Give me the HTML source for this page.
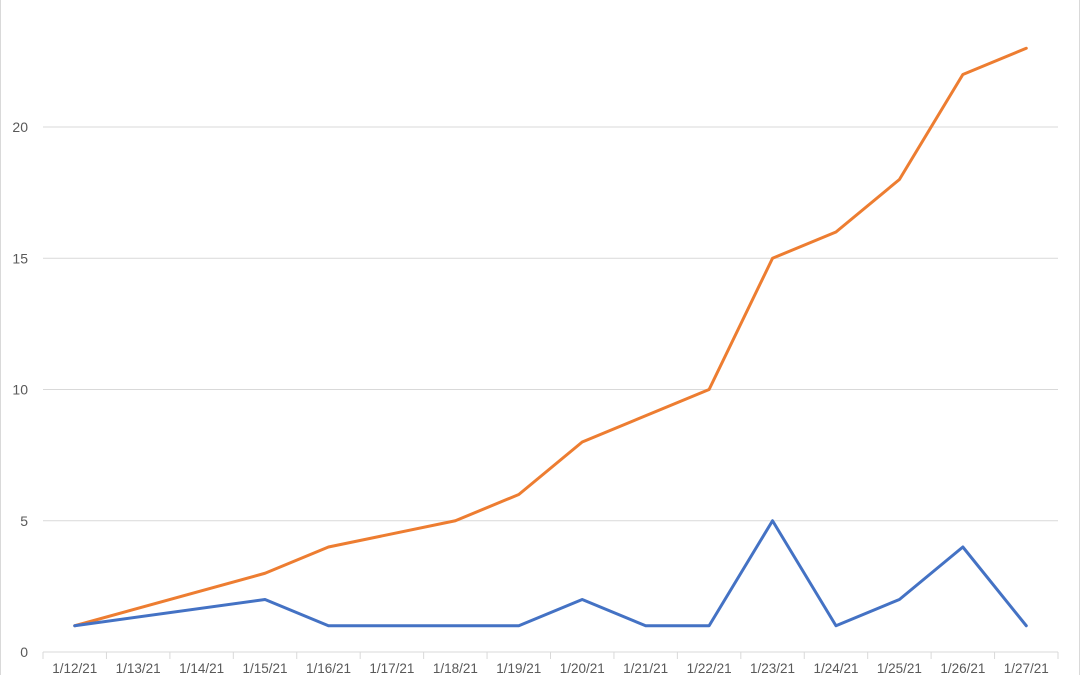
<!DOCTYPE html>
<html><head><meta charset="utf-8"><style>
body{margin:0;background:#fff;}
svg{display:block;font-family:"Liberation Sans",sans-serif;}
</style></head><body>
<svg id="chart" width="1080" height="675">
<rect x="0.5" y="-1" width="1079" height="677" fill="#fff" stroke="#d9d9d9"/>
<g id="grid"></g><g id="axes"></g><g id="series"></g>
</svg>
<script>
const categories=["1/12/21","1/13/21","1/14/21","1/15/21","1/16/21","1/17/21","1/18/21","1/19/21","1/20/21","1/21/21","1/22/21","1/23/21","1/24/21","1/25/21","1/26/21","1/27/21"];
const orangeValues=[1,null,null,3,4,null,5,6,8,null,10,15,16,18,22,23];
const blueValues=[1,null,null,2,1,null,null,1,2,1,1,5,1,2,4,1];
const yTicks=[0,5,10,15,20];
const NS="http://www.w3.org/2000/svg";
const L=43,R=1058,Y0=652,PPU=26.25;
const bw=(R-L)/categories.length;
const x=i=>L+bw*(i+0.5);
const y=v=>Y0-v*PPU;
function mk(t,a,p){const e=document.createElementNS(NS,t);for(const k in a)e.setAttribute(k,a[k]);p.appendChild(e);return e;}
const grid=document.getElementById('grid'),axes=document.getElementById('axes'),series=document.getElementById('series');
yTicks.forEach(v=>{
 if(v>0){const g=mk('line',{x1:L,x2:R,y1:y(v),y2:y(v),stroke:'#d9d9d9','stroke-width':1},grid);
 
 }
 const t=mk('text',{x:28,y:y(v)+5,'text-anchor':'end','font-size':14,fill:'#595959'},axes);t.textContent=v;
 
 
});
const ax=mk('line',{x1:L,x2:R,y1:Y0,y2:Y0,stroke:'#d9d9d9','stroke-width':1},axes);


for(let i=0;i<=categories.length;i++){
 const tk=mk('line',{x1:L+bw*i,x2:L+bw*i,y1:Y0,y2:Y0+7,stroke:'#d9d9d9'},axes);
 
 
}
categories.forEach((c,i)=>{
 const t=mk('text',{x:x(i),y:673,'text-anchor':'middle','font-size':13.5,fill:'#595959'},axes);t.textContent=c;
 
 
});
function draw(vals,color,name){
 const pts=[];vals.forEach((v,i)=>{if(v!==null)pts.push(x(i)+','+y(v));});
 const p=mk('polyline',{points:pts.join(' '),fill:'none',stroke:color,'stroke-width':3,'stroke-linejoin':'round','stroke-linecap':'round'},series);
 
 
}
draw(orangeValues,'#ed7d31','orange-series-line');
draw(blueValues,'#4472c4','blue-series-line');
</script>
</body></html>
